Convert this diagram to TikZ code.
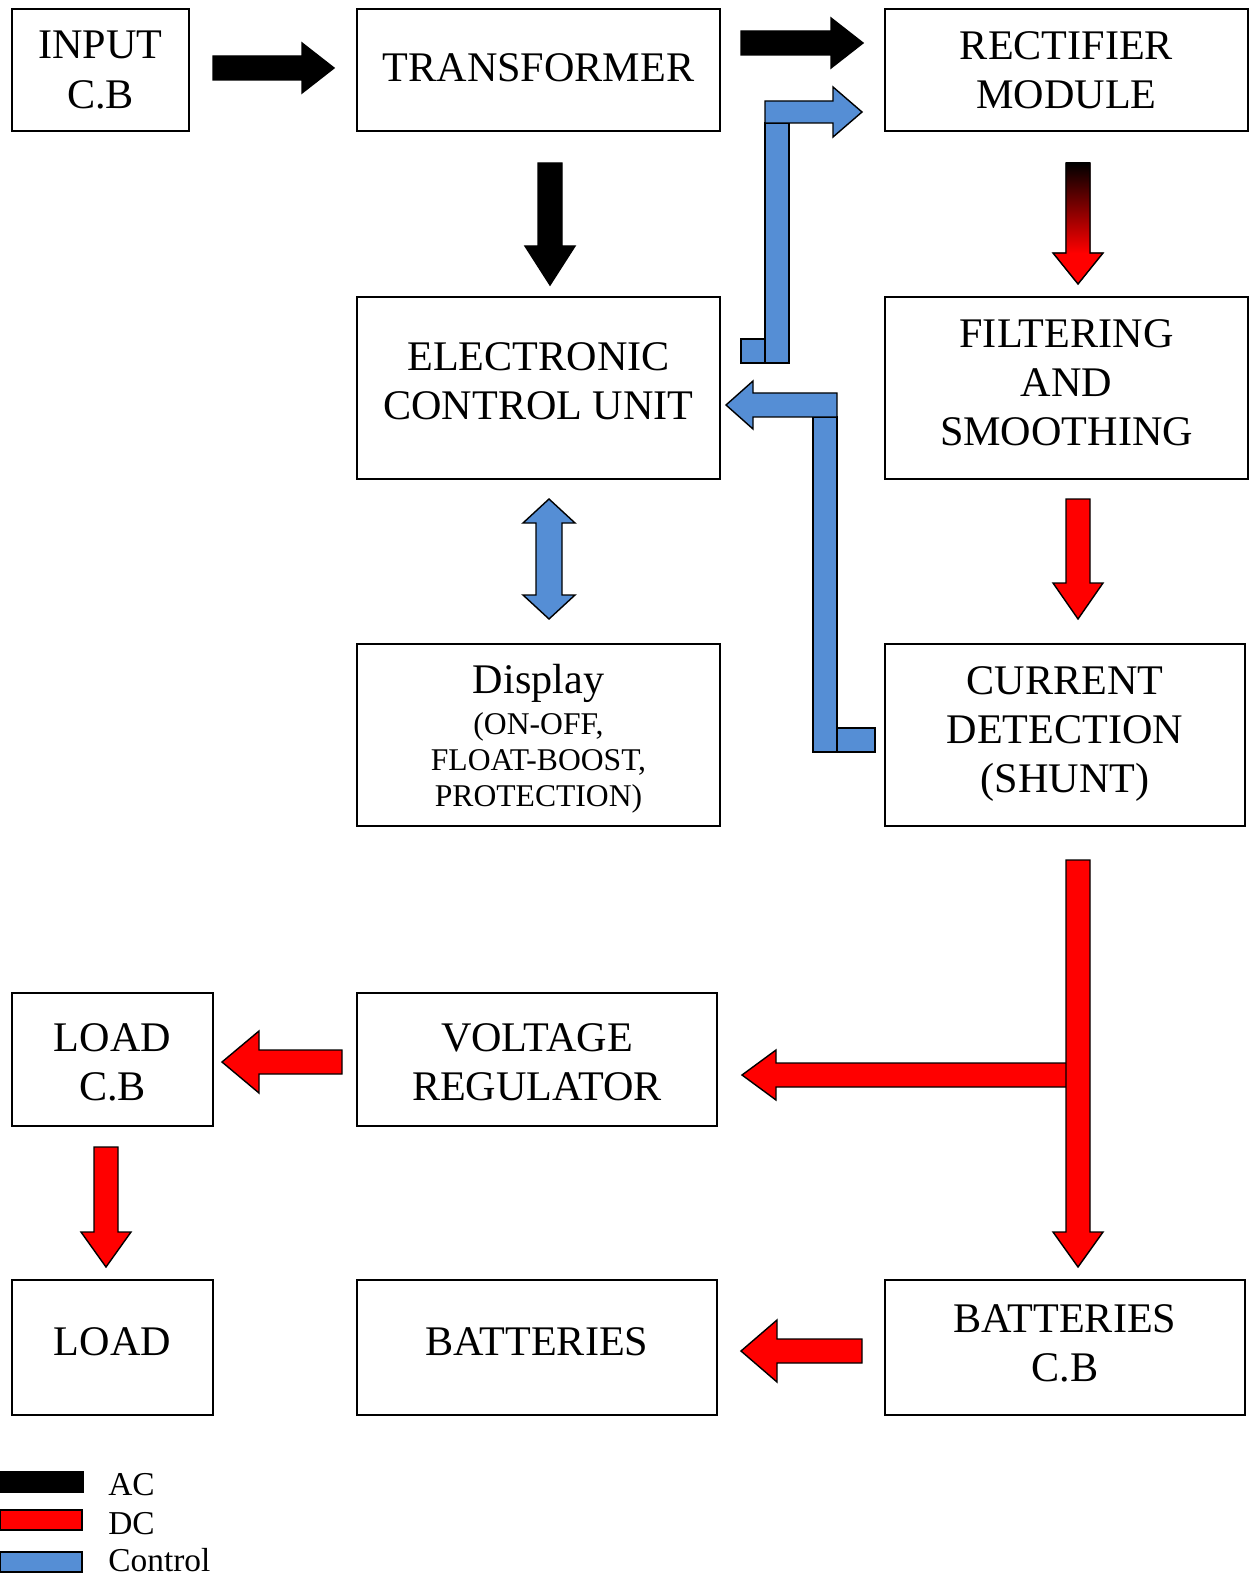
\documentclass[tikz,border=0pt]{standalone}
\usepackage{fontspec}
\setmainfont{Liberation Serif}
\usepackage{tikz}
\usetikzlibrary{positioning,calc}

\definecolor{dcred}{RGB}{255,0,0}
\definecolor{ctlblue}{RGB}{85,142,213}

% block arrows: style, tail, head base, tip, centre line, half head width
\newcommand{\blockh}[6]{\draw[#1] (#2,{#5-12}) -- (#3,{#5-12}) -- (#3,{#5-#6}) -- (#4,#5) -- (#3,{#5+#6}) -- (#3,{#5+12}) -- (#2,{#5+12}) -- cycle;}
\newcommand{\blockv}[6]{\draw[#1] ({#2-12},#3) -- ({#2-12},#4) -- ({#2-#6},#4) -- (#2,#5) -- ({#2+#6},#4) -- ({#2+12},#4) -- ({#2+12},#3) -- cycle;}

\begin{document}
\begin{tikzpicture}[
    x=0.02cm, y=-0.02cm,
    box/.style={draw, line width=1.1pt, rectangle, inner sep=0pt},
    txt/.style={align=center, inner sep=0pt, font=\fontsize{24}{28}\selectfont},
    acarrow/.style={draw, line width=0.8pt, fill=black},
    dcarrow/.style={draw, line width=0.8pt, fill=dcred},
    ctlarrow/.style={draw, line width=0.8pt, fill=ctlblue},
    outline/.style={draw, line width=0.8pt},
    legtext/.style={anchor=base west, inner sep=0pt, font=\fontsize{19}{22}\selectfont}
]
\useasboundingbox (0,0) rectangle (1250,1577);

% Blocks
\node[box, minimum width=3.54cm, minimum height=2.44cm] (incb) at (100.5,70) {};
\node[box, minimum width=7.26cm, minimum height=2.44cm] (trafo) at (538.5,70) {};
\node[box, minimum width=7.26cm, minimum height=2.44cm] (rect) at (1066.5,70) {};
\node[box, minimum width=7.26cm, minimum height=3.64cm] (ecu) at (538.5,388) {};
\node[box, minimum width=7.26cm, minimum height=3.64cm] (filt) at (1066.5,388) {};
\node[box, minimum width=7.26cm, minimum height=3.64cm] (disp) at (538.5,735) {};
\node[box, minimum width=7.2cm, minimum height=3.64cm] (shunt) at (1065,735) {};
\node[box, minimum width=4.02cm, minimum height=2.66cm] (loadcb) at (112.5,1059.5) {};
\node[box, minimum width=7.2cm, minimum height=2.66cm] (vreg) at (537,1059.5) {};
\node[box, minimum width=4.02cm, minimum height=2.7cm] (load) at (112.5,1347.5) {};
\node[box, minimum width=7.2cm, minimum height=2.7cm] (batt) at (537,1347.5) {};
\node[box, minimum width=7.2cm, minimum height=2.7cm] (battcb) at (1065,1347.5) {};

% Block texts
\node[txt] (incb-t) at (incb) {INPUT\\C.B};
\node[txt] (trafo-t) at ($(trafo)+(0,-2)$) {TRANSFORMER};
\node[txt] (rect-t) at (rect) {RECTIFIER\\MODULE};
\node[txt] (ecu-t) at ($(ecu)+(0,-7)$) {ELECTRONIC\\CONTROL UNIT};
\node[txt] (filt-t) at ($(filt)+(0,-5.5)$) {FILTERING\\AND\\SMOOTHING};
\node[txt, font=\fontsize{18}{20.7}\selectfont] (disp-t) at ($(disp)+(0,4)$)
    {{\fontsize{24}{28}\selectfont Display}\\[2.3pt](ON-OFF,\\FLOAT-BOOST,\\PROTECTION)};
\node[txt] (shunt-t) at ($(shunt)+(0,-1)$) {CURRENT\\DETECTION\\(SHUNT)};
\node[txt] (loadcb-t) at ($(loadcb)+(0,3)$) {LOAD\\C.B};
\node[txt] (vreg-t) at ($(vreg)+(0,3)$) {VOLTAGE\\REGULATOR};
\node[txt] (load-t) at ($(load)+(0,-6)$) {LOAD};
\node[txt] (batt-t) at ($(batt)+(0,-6)$) {BATTERIES};
\node[txt] (battcb-t) at ($(battcb)+(0,-4.5)$) {BATTERIES\\C.B};

% AC arrows
\blockh{acarrow}{213}{302}{334}{68}{25}
\blockh{acarrow}{741}{831}{863}{43}{25}
\blockv{acarrow}{550}{163}{246}{285}{25}
% AC to DC, shaded shaft
\blockv{fill=dcred}{1078}{163}{253}{284}{25}
\shade[top color=black, bottom color=dcred] (1066,163) rectangle (1090,253);
\blockv{outline}{1078}{163}{253}{284}{25}

% DC arrows
\blockv{dcarrow}{1078}{499}{583}{619}{25}
\blockh{dcarrow}{1067}{776}{742}{1075}{25}
\blockv{dcarrow}{1078}{860}{1232}{1267}{25}
\blockh{dcarrow}{342}{259}{222}{1062}{31}
\blockv{dcarrow}{106}{1147}{1232}{1267}{25}
\blockh{dcarrow}{862}{777}{741}{1351}{31}

% Control arrows
\draw[ctlarrow] (741,339) rectangle (765,363);
\draw[ctlarrow] (765,123) rectangle (789,363);
\draw[ctlarrow] (765,101) -- (833,101) -- (833,87) -- (862,112) -- (833,137) -- (833,123) -- (765,123) -- cycle;
\draw[ctlarrow] (837,728) rectangle (875,752);
\draw[ctlarrow] (813,417) rectangle (837,752);
\draw[ctlarrow] (837,393) -- (753,393) -- (753,381) -- (726,405) -- (753,429) -- (753,417) -- (837,417) -- cycle;
\draw[ctlarrow] (549,499) -- (575,523) -- (562,523) -- (562,595) -- (575,595) -- (549,619) -- (523,595) -- (536,595) -- (536,523) -- (523,523) -- cycle;

% Legend
\draw[acarrow] (0,1472) rectangle (83,1492);
\draw[dcarrow] (0,1510) rectangle (82,1530);
\draw[ctlarrow] (0,1552) rectangle (82,1572);
\node[legtext] (lac) at (108,1495) {AC};
\node[legtext] (ldc) at (108,1534) {DC};
\node[legtext] (lctl) at (108,1571) {Control};

\end{tikzpicture}
\end{document}
